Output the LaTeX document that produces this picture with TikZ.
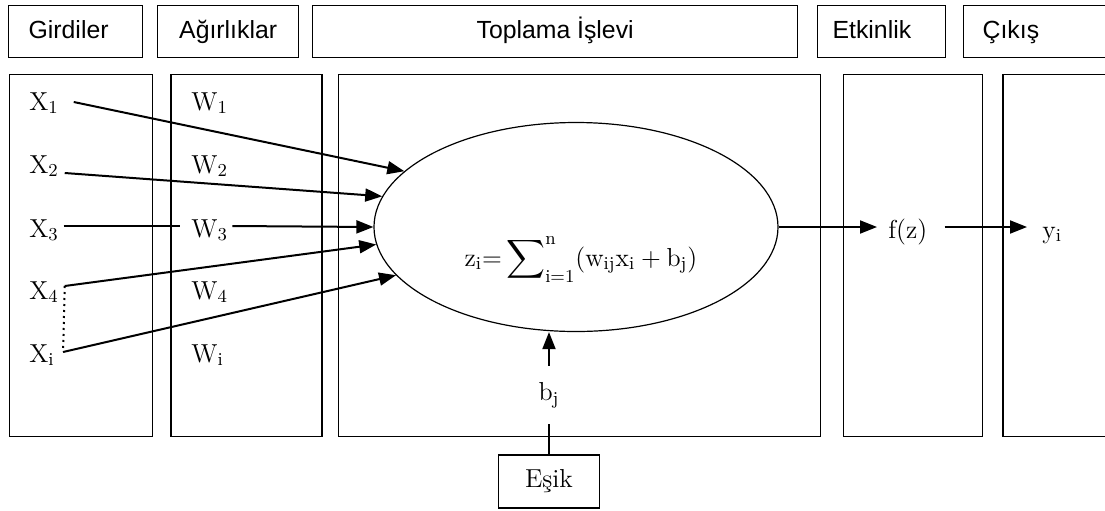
\RequirePackage{fix-cm}
\documentclass[tikz,border=0pt]{standalone}
\usepackage{fontspec}
\usepackage{graphicx}
\usepackage{tikz}
\usetikzlibrary{shapes.geometric, arrows.meta, positioning, calc}
\newfontfamily\headfont{Liberation Sans}
\newcommand{\bigsigma}{\mathop{\vcenter{\hbox{\scalebox{1.35}{$\displaystyle\sum$}}}}\nolimits}

\begin{document}
\begin{tikzpicture}[
    x=0.5pt, y=-0.5pt,
    head/.style={rectangle, draw, line width=0.65pt, anchor=north west, minimum height=26pt, inner ysep=0pt, text height=9pt, text depth=2.5pt, font=\headfont\fontsize{12.4}{15}\selectfont},
    headtext/.style={head, draw=none, anchor=west, minimum height=0pt, inner xsep=0pt},
    panel/.style={rectangle, draw, line width=0.65pt, anchor=north west, minimum height=181pt},
    lab/.style={inner sep=0pt, anchor=base west, font=\fontsize{13}{16}\selectfont},
    edge/.style={-{Triangle[length=8.5pt,width=6.5pt]}, line width=1pt},
    plain/.style={line width=0.6pt}
]
\useasboundingbox (0,0) rectangle (1105,510);
\clip (0,0) rectangle (1105,510);

% Header row
\node[head, minimum width=67pt] (hin) at (8,5) {};
\node[head, minimum width=70.5pt] (hw) at (157,5) {Ağırlıklar};
\node[head, minimum width=242.5pt] (hsum) at (312,5) {Toplama İşlevi};
\node[head, minimum width=64pt] (hact) at (817,5) {};
\node[head, minimum width=76pt] (hout) at (963,5) {};
\node[headtext] (tin) at ([xshift=10pt]hin.west) {Girdiler};
\node[headtext] (tact) at ([xshift=7.5pt]hact.west) {Etkinlik};
\node[headtext] (tout) at ([xshift=9.5pt]hout.west) {Çıkış};

% Panels
\node[panel, minimum width=71.5pt] (pin) at (9,74) {};
\node[panel, minimum width=75.5pt, right=8.5pt of pin] (pw) {};
\node[panel, minimum width=241pt, right=7.5pt of pw] (psum) {};
\node[panel, minimum width=69.5pt, right=11pt of psum] (pact) {};
\node[panel, minimum width=70pt, right=9.5pt of pact] (pout) {};

% Inputs and weights
\node[lab] (x1) at (29,110) {$\mathrm{X}_1$};
\node[lab] (x2) at (29,173) {$\mathrm{X}_2$};
\node[lab] (x3) at (29,237) {$\mathrm{X}_3$};
\node[lab] (x4) at (29,299) {$\mathrm{X}_4$};
\node[lab] (xi) at (29,362) {$\mathrm{X}_\mathrm{i}$};
\node[lab] (w1) at (191,110) {$\mathrm{W}_1$};
\node[lab] (w2) at (191,173) {$\mathrm{W}_2$};
\node[lab] (w3) at (191,237) {$\mathrm{W}_3$};
\node[lab] (w4) at (191,299) {$\mathrm{W}_4$};
\node[lab] (wi) at (191,362) {$\mathrm{W}_\mathrm{i}$};

% Summation
\node[ellipse, draw, line width=0.6pt, minimum width=202pt, minimum height=104.5pt, inner sep=0pt] (sum) at (576,227) {};
\node[lab, anchor=base] (eq) at (581,266) {$\mathrm{z_i}{=}\bigsigma_{\mathrm{i}=1}^{\mathrm{n}}\bigl(\mathrm{w_{ij}x_i}+\mathrm{b_j}\bigr)$};

% Activation and output
\node[lab] (fz) at (888,238) {$\mathrm{f(z)}$};
\node[lab] (yi) at (1042,238) {$\mathrm{y}_\mathrm{i}$};

% Threshold
\node[rectangle, draw, line width=0.65pt, minimum width=50.5pt, minimum height=26.5pt, font=\fontsize{13}{16}\selectfont] (esik) at (549,481.5) {Eşik};
\node[inner xsep=0pt, inner ysep=8pt, font=\fontsize{13}{16}\selectfont, above=15pt of esik] (bj) {$\mathrm{b_j}$};

% Edges
\draw[edge] ([shift={(7.25pt,4pt)}]x1.base east) -- (sum.162.6);
\draw[edge] ([xshift=2.75pt]x2.base east) -- (sum.171.6);
\draw[plain] ([shift={(2.25pt,5.5pt)}]x3.base east) -- ([shift={(-5.5pt,5.5pt)}]w3.base west);
\draw[edge] ([shift={(2pt,5.5pt)}]w3.base east) -- (sum.180);
\draw[edge] ([shift={(2.75pt,6.5pt)}]x4.base east) -- (sum.185.9);
\draw[edge] ([shift={(4pt,5pt)}]xi.base east) -- (sum.195.4);
\draw[dotted, line width=1pt] ([shift={(2.75pt,6.5pt)}]x4.base east) -- ([shift={(4pt,5pt)}]xi.base east);
\draw[edge, shorten >=5.5pt] (sum.east) -- (sum.east -| fz.west);
\draw[edge, shorten <=8.5pt, shorten >=7.5pt] (sum.east -| fz.east) -- (sum.east -| yi.west);
\draw[line width=1pt] (esik) -- (bj);
\draw[edge] (bj) -- (bj.north |- sum.south);

\end{tikzpicture}
\end{document}
